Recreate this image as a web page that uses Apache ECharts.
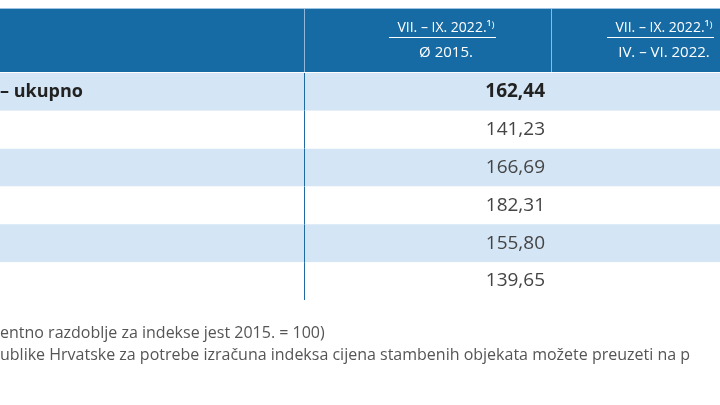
<!DOCTYPE html>
<html>
<head>
<meta charset="utf-8">
<script src="https://cdn.jsdelivr.net/npm/echarts@6/dist/echarts.min.js"></script>
<style>html,body{margin:0;padding:0;background:#fff}#main{width:720px;height:405px}</style>
</head>
<body>
<div id="main"></div>
<script>
// retci tablice
const rowLabels = ['– ukupno', '', '', '', '', ''];
const values = [162.44, 141.23, 166.69, 182.31, 155.80, 139.65];
const headerCols = [
  ['VII. – IX. 2022.¹⁾', 'Ø 2015.'],
  ['VII. – IX. 2022.¹⁾', 'IV. – VI. 2022.']
];
const notes = [
  'entno razdoblje za indekse jest 2015. = 100)',
  'ublike Hrvatske za potrebe izračuna indeksa cijena stambenih objekata možete preuzeti na p'
];

const fmt = v => v.toFixed(2).replace('.', ',');
const FONT = '"Open Sans", sans-serif';

const chart = echarts.init(document.getElementById('main'));

const header = [
  { type: 'rect', shape: { x: 0, y: 9, width: 720, height: 63 }, style: { fill: '#176ba4' } },
  { type: 'line', shape: { x1: 0, y1: 8.5, x2: 720, y2: 8.5 }, style: { stroke: '#9cc3e2', lineWidth: 1 } },
  { type: 'line', shape: { x1: 304.5, y1: 9, x2: 304.5, y2: 72 }, style: { stroke: '#8fb8da', lineWidth: 1 } },
  { type: 'line', shape: { x1: 551.5, y1: 9, x2: 551.5, y2: 72 }, style: { stroke: '#8fb8da', lineWidth: 1 } }
];
const centers = [446, 664];
headerCols.forEach((col, i) => {
  header.push({ type: 'text', x: centers[i], y: 28, style: { text: col[0], fill: '#fff', font: '14px ' + FONT, align: 'center', verticalAlign: 'middle' } });
  header.push({ type: 'line', shape: { x1: centers[i] - 57, y1: 37.5, x2: centers[i] + 50, y2: 37.5 }, style: { stroke: '#fff', lineWidth: 1 } });
  header.push({ type: 'text', x: centers[i], y: 53, style: { text: col[1], fill: '#fff', font: '15px ' + FONT, align: 'center', verticalAlign: 'middle' } });
});
notes.forEach((t, i) => {
  header.push({ type: 'text', x: 0, y: 333 + i * 22, style: { text: t, fill: '#555', font: '16px ' + FONT, verticalAlign: 'middle' } });
});

chart.setOption({
  animation: false,
  grid: { left: 0, right: 0, top: 73, bottom: 105 },
  xAxis: { type: 'value', min: 0, max: 720, show: false },
  yAxis: { type: 'category', data: values.map((v, i) => i), inverse: true, show: false },
  graphic: header,
  series: [{
    type: 'custom',
    data: values.map((v, i) => [i, v, rowLabels[i]]),
    encode: { y: 0 },
    renderItem: (params, api) => {
      const idx = api.value(0);
      const yc = api.coord([0, idx])[1];
      const h = api.size([0, 1])[1];
      const top = yc - h / 2;
      const right = api.coord([545, idx])[0];
      const bold = idx === 0;
      return {
        type: 'group',
        children: [
          { type: 'rect', shape: { x: 0, y: top, width: 720, height: h }, style: { fill: idx % 2 === 0 ? '#d4e5f5' : '#fff' } },
          { type: 'line', shape: { x1: 304.5, y1: top, x2: 304.5, y2: top + h }, style: { stroke: '#1f6aa0', lineWidth: 1 } },
          { type: 'text', x: 0, y: yc, style: { text: rowLabels[idx], fill: '#222', font: (bold ? 'bold ' : '') + '18px ' + FONT, verticalAlign: 'middle' } },
          { type: 'text', x: right, y: yc, style: { text: fmt(api.value(1)), fill: bold ? '#222' : '#444', font: (bold ? 'bold ' : '') + '19px ' + FONT, align: 'right', verticalAlign: 'middle' } }
        ]
      };
    }
  }]
});
</script>
</body>
</html>
